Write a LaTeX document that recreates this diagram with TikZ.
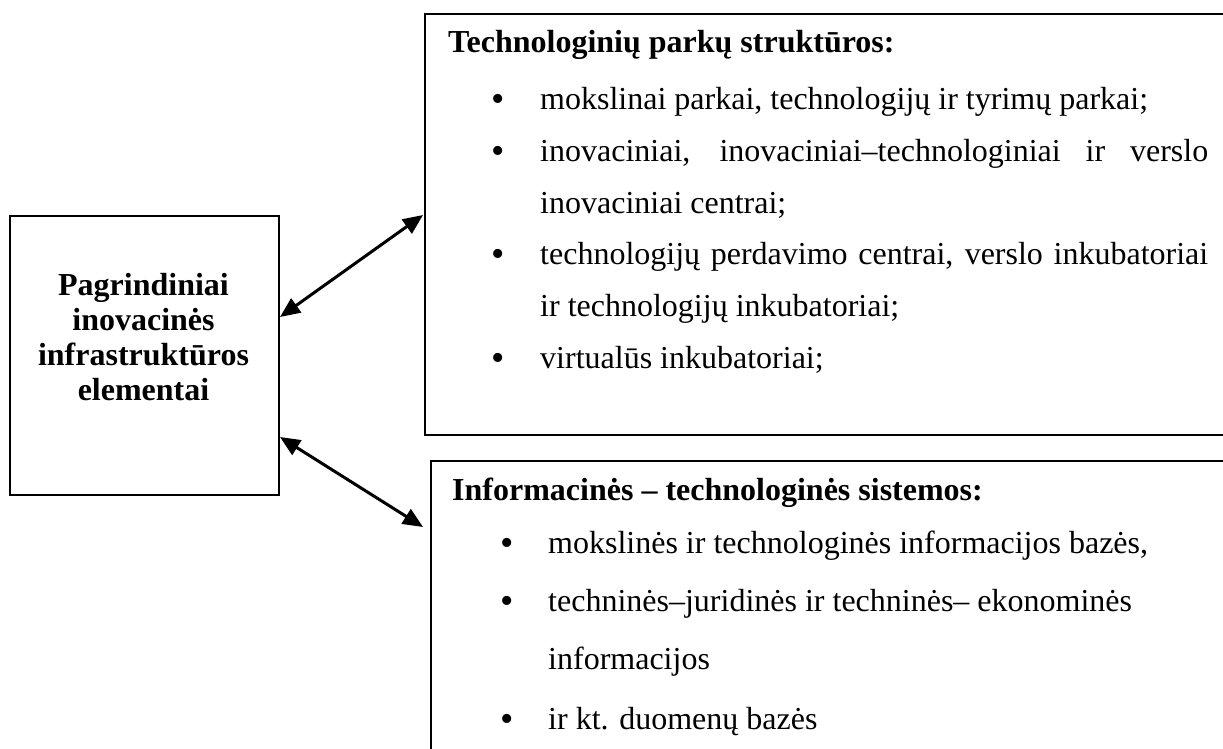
\documentclass[tikz,border=0pt]{standalone}
\usepackage{fontspec}
\setmainfont{Liberation Serif}
\usetikzlibrary{arrows.meta}
\begin{document}
\begin{tikzpicture}[x=1pt,y=-1pt,
  frame/.style={draw, line width=2pt, anchor=north west, inner sep=0pt},
  link/.style={line width=3pt,
    {Triangle[length=20pt,width=17pt]}-{Triangle[length=20pt,width=17pt]}},
  body/.style={anchor=base west, inner sep=0pt, font=\fontsize{32}{38}\selectfont},
  head/.style={anchor=base west, inner sep=0pt, font=\fontsize{32}{38}\selectfont\bfseries},
  mid/.style={anchor=base, inner sep=0pt, font=\fontsize{32}{38}\selectfont\bfseries},
  dot/.style={anchor=base, inner sep=0pt, yshift=-2pt, font=\fontsize{38}{40}\selectfont}]
\clip (0,0) rectangle (1223,749);

% boxes
\node[frame, minimum width=269pt, minimum height=279pt] (L) at (9,215) {};
\node[frame, minimum width=840pt, minimum height=421pt] (T) at (424,13) {};
\node[frame, minimum width=840pt, minimum height=340pt] (B) at (430,460) {};

% left box text
\node[mid] (l1) at (143.5,295) {Pagrindiniai};
\node[mid] (l2) at (143.5,330) {inovacinės};
\node[mid] (l3) at (143.5,365) {infrastruktūros};
\node[mid] (l4) at (143.5,400) {elementai};

% upper right box
\node[head] (t0) at (448,53) {Technologinių parkų struktūros:};
\node[dot] (d1) at (498,110) {•};
\node[body] (t1) at (540,110) {mokslinai parkai, technologijų ir tyrimų parkai;};
\node[dot] (d2) at (498,161.6) {•};
\node[body] (t2) at (540,161.6) {\makebox[668pt][s]{inovaciniai, inovaciniai–technologiniai ir verslo}};
\node[body] (t3) at (540,213.2) {inovaciniai centrai;};
\node[dot] (d3) at (498,264.8) {•};
\node[body] (t4) at (540,264.8) {\makebox[668pt][s]{technologijų perdavimo centrai, verslo inkubatoriai}};
\node[body] (t5) at (540,316.4) {ir technologijų inkubatoriai;};
\node[dot] (d4) at (498,368) {•};
\node[body] (t6) at (540,368) {virtualūs inkubatoriai;};

% lower right box
\node[head] (b0) at (452,500) {Informacinės – technologinės sistemos:};
\node[dot] (e1) at (507,553) {•};
\node[body] (b1) at (548,553) {mokslinės ir technologinės informacijos bazės,};
\node[dot] (e2) at (507,611) {•};
\node[body] (b2) at (548,611) {techninės–juridinės ir techninės– ekonominės};
\node[body] (b3) at (548,669) {informacijos};
\node[dot] (e3) at (507,729) {•};
\node[body] (b4) at (548,729) {ir kt. duomenų bazės};

% two-way links
\draw[link] ([yshift=-102pt]L.north east) -- ([xshift=-1pt,yshift=-202pt]T.north west);
\draw[link] ([yshift=-222pt]L.north east) -- ([xshift=-7pt,yshift=-67pt]B.north west);
\end{tikzpicture}
\end{document}
